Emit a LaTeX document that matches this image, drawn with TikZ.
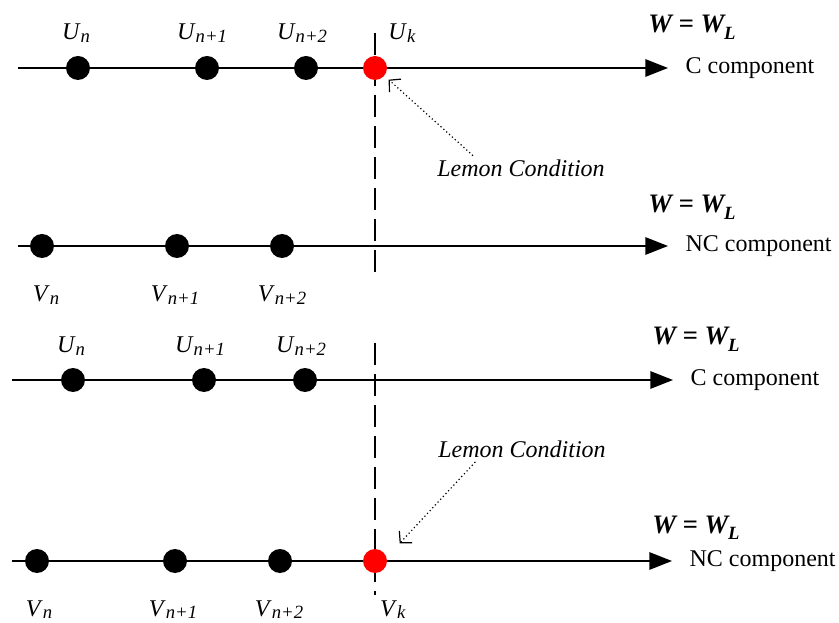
\documentclass[tikz,border=0pt]{standalone}
\usepackage{fontspec}
\setmainfont{Liberation Serif}
\usepackage{tikz}
\usepackage{xcolor}
\usetikzlibrary{arrows.meta, positioning, calc, backgrounds}
\definecolor{cLemon}{RGB}{255,0,0}
\newcommand{\sublbl}[2]{\textit{#1}\raisebox{-0.12em}{\fontsize{14}{14}\selectfont\textit{#2}}}
\newcommand{\wlimit}{{\fontsize{20}{22}\selectfont\bfseries\itshape W = W\raisebox{-0.25em}{\fontsize{14}{14}\selectfont L}}}
\tikzset{
	dot/.style     ={circle, fill=black, minimum size=18pt, inner sep=0pt},
	lemondot/.style={circle, fill=cLemon, minimum size=18pt, inner sep=0pt},
	lbl/.style     ={anchor=base, inner sep=0pt},
	comp/.style    ={anchor=west, inner xsep=13pt, inner ysep=0pt},
	wnode/.style   ={anchor=base west, inner sep=0pt},
	lemon/.style   ={anchor=base, font=\fontsize{18}{20}\selectfont\itshape},
	axis/.style    ={-{Triangle[length=17pt, width=13pt]}, line width=1.5pt},
	cut/.style     ={line width=2.2pt, dash pattern=on 16.5pt off 6.75pt},
	hint/.style    ={-{Straight Barb[length=6pt, width=13pt, line width=0.9pt]}, dotted, line width=0.9pt},
}

\begin{document}
\begin{tikzpicture}[x=0.75pt, y=-0.75pt, font=\fontsize{18}{20}\selectfont]
	\useasboundingbox (0,0) rectangle (839,623);
	% first pair: C and NC components, lemon point on the C line
	\coordinate (a1) at (18,68);
	\node[dot] (u1n) at (78,68) {};
	\node[dot] (u1p) at (207,68) {};
	\node[dot] (u1q) at (306,68) {};
	\node[lemondot] (u1k) at (375,68) {};
	\node[comp] (c1) at (668,68) {C component};
	\node[lbl] (l1n) at (76,40) {\sublbl{U}{n}};
	\node[lbl] (l1p) at (202,40) {\sublbl{U}{n+1}};
	\node[lbl] (l1q) at (302,40) {\sublbl{U}{n+2}};
	\node[lbl] (l1k) at (402,40) {\sublbl{U}{k}};
	\node[wnode] (w1) at (648,33) {\wlimit};

	\coordinate (a2) at (18,246);
	\node[dot] (v2n) at (42,246) {};
	\node[dot] (v2p) at (177,246) {};
	\node[dot] (v2q) at (282,246) {};
	\node[comp] (c2) at (668,246) {NC component};
	\node[lbl] (l2n) at (46,302) {\sublbl{V}{n}};
	\node[lbl] (l2p) at (175,302) {\sublbl{V}{n+1}};
	\node[lbl] (l2q) at (282,302) {\sublbl{V}{n+2}};
	\node[wnode] (w2) at (648,213) {\wlimit};

	\coordinate (t1) at (375,33);
	\coordinate (b1) at (375,280);
	\node[lemon] (lc1) at (521,177) {Lemon Condition};
	\draw[hint] ([xshift=-36pt]lc1.north) -- ([shift={(5,3)}]u1k.south east);

	% second pair: lemon point on the NC line
	\coordinate (a3) at (12,380);
	\node[dot] (u3n) at (73,380) {};
	\node[dot] (u3p) at (204,380) {};
	\node[dot] (u3q) at (305,380) {};
	\node[comp] (c3) at (673,380) {C component};
	\node[lbl] (l3n) at (71,353) {\sublbl{U}{n}};
	\node[lbl] (l3p) at (200,353) {\sublbl{U}{n+1}};
	\node[lbl] (l3q) at (301,353) {\sublbl{U}{n+2}};
	\node[wnode] (w3) at (652,345) {\wlimit};

	\coordinate (a4) at (12,561);
	\node[dot] (v4n) at (37,561) {};
	\node[dot] (v4p) at (175,561) {};
	\node[dot] (v4q) at (280,561) {};
	\node[lemondot] (v4k) at (375,561) {};
	\node[comp] (c4) at (672,561) {NC component};
	\node[lbl] (l4n) at (39,616) {\sublbl{V}{n}};
	\node[lbl] (l4p) at (173,616) {\sublbl{V}{n+1}};
	\node[lbl] (l4q) at (279,616) {\sublbl{V}{n+2}};
	\node[lbl] (l4k) at (393,616) {\sublbl{V}{k}};
	\node[wnode] (w4) at (652,533) {\wlimit};

	\coordinate (t2) at (375,343);
	\coordinate (b2) at (375,595);
	\node[lemon] (lc2) at (522,457) {Lemon Condition};
	\draw[hint] ([xshift=-35pt]lc2.south) -- ([shift={(16,-9)}]v4k.north east);

	\begin{scope}[on background layer]
		\draw[axis] (a1) -- (c1.west);
		\draw[axis] (a2) -- (c2.west);
		\draw[axis] (a3) -- (c3.west);
		\draw[axis] (a4) -- (c4.west);
		\draw[cut] (t1) -- (b1);
		\draw[cut] (t2) -- (b2);
	\end{scope}
\end{tikzpicture}
\end{document}
